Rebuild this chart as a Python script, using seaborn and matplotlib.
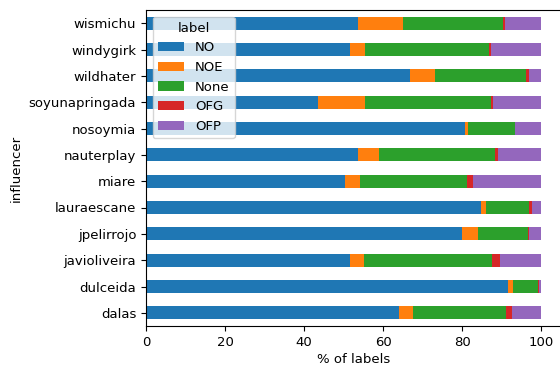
import matplotlib
matplotlib.use("Agg")
import matplotlib.pyplot as plt
import seaborn as sns
import pandas as pd

influencers = ["dalas", "dulceida", "javioliveira", "jpelirrojo", "lauraescane", "miare",
               "nauterplay", "nosoymia", "soyunapringada", "wildhater", "windygirk", "wismichu"]
labels = ["NO", "NOE", "None", "OFG", "OFP"]

no_vals   = [64.1, 91.6, 51.6, 80.0, 84.8, 50.4, 53.7, 80.7, 43.5, 66.8, 51.6, 53.7]
noe_vals  = [3.5, 1.3, 3.6, 4.1, 1.3, 3.8, 5.3, 0.7, 11.9, 6.4, 3.8, 11.4]
none_vals = [23.5, 6.3, 32.4, 12.6, 10.9, 27.1, 29.4, 12.0, 32.0, 23.0, 31.4, 25.3]
ofg_vals  = [1.6, 0.3, 2.0, 0.3, 0.7, 1.5, 0.7, 0.0, 0.4, 0.8, 0.5, 0.5]
ofp_vals  = [7.3, 0.5, 10.4, 3.0, 2.3, 17.2, 10.9, 6.6, 12.2, 3.0, 12.7, 9.1]

df = pd.DataFrame({"NO": no_vals, "NOE": noe_vals, "None": none_vals,
                   "OFG": ofg_vals, "OFP": ofp_vals}, index=influencers)
df.index.name = "influencer"
df.columns.name = "label"

colors = sns.color_palette("tab10", 5)
plt.rcParams["font.size"] = 9.5

fig = plt.figure(figsize=(5.6, 3.65), dpi=100)
ax = fig.add_axes([146/560, 1 - 326/365, (561 - 146)/560, (326 - 10)/365])
df.plot.barh(stacked=True, ax=ax, color=colors)
ax.set_xlim(0, 105)
ax.set_ylim(-0.5, len(influencers) - 0.5)
ax.set_xticks([0, 20, 40, 60, 80, 100])
ax.set_xlabel("% of labels", labelpad=3)
ax.set_ylabel("influencer")
ax.legend(title="label", loc="upper left", fontsize=9.5, title_fontsize=9.5)
fig.savefig("out.png", dpi=100)
